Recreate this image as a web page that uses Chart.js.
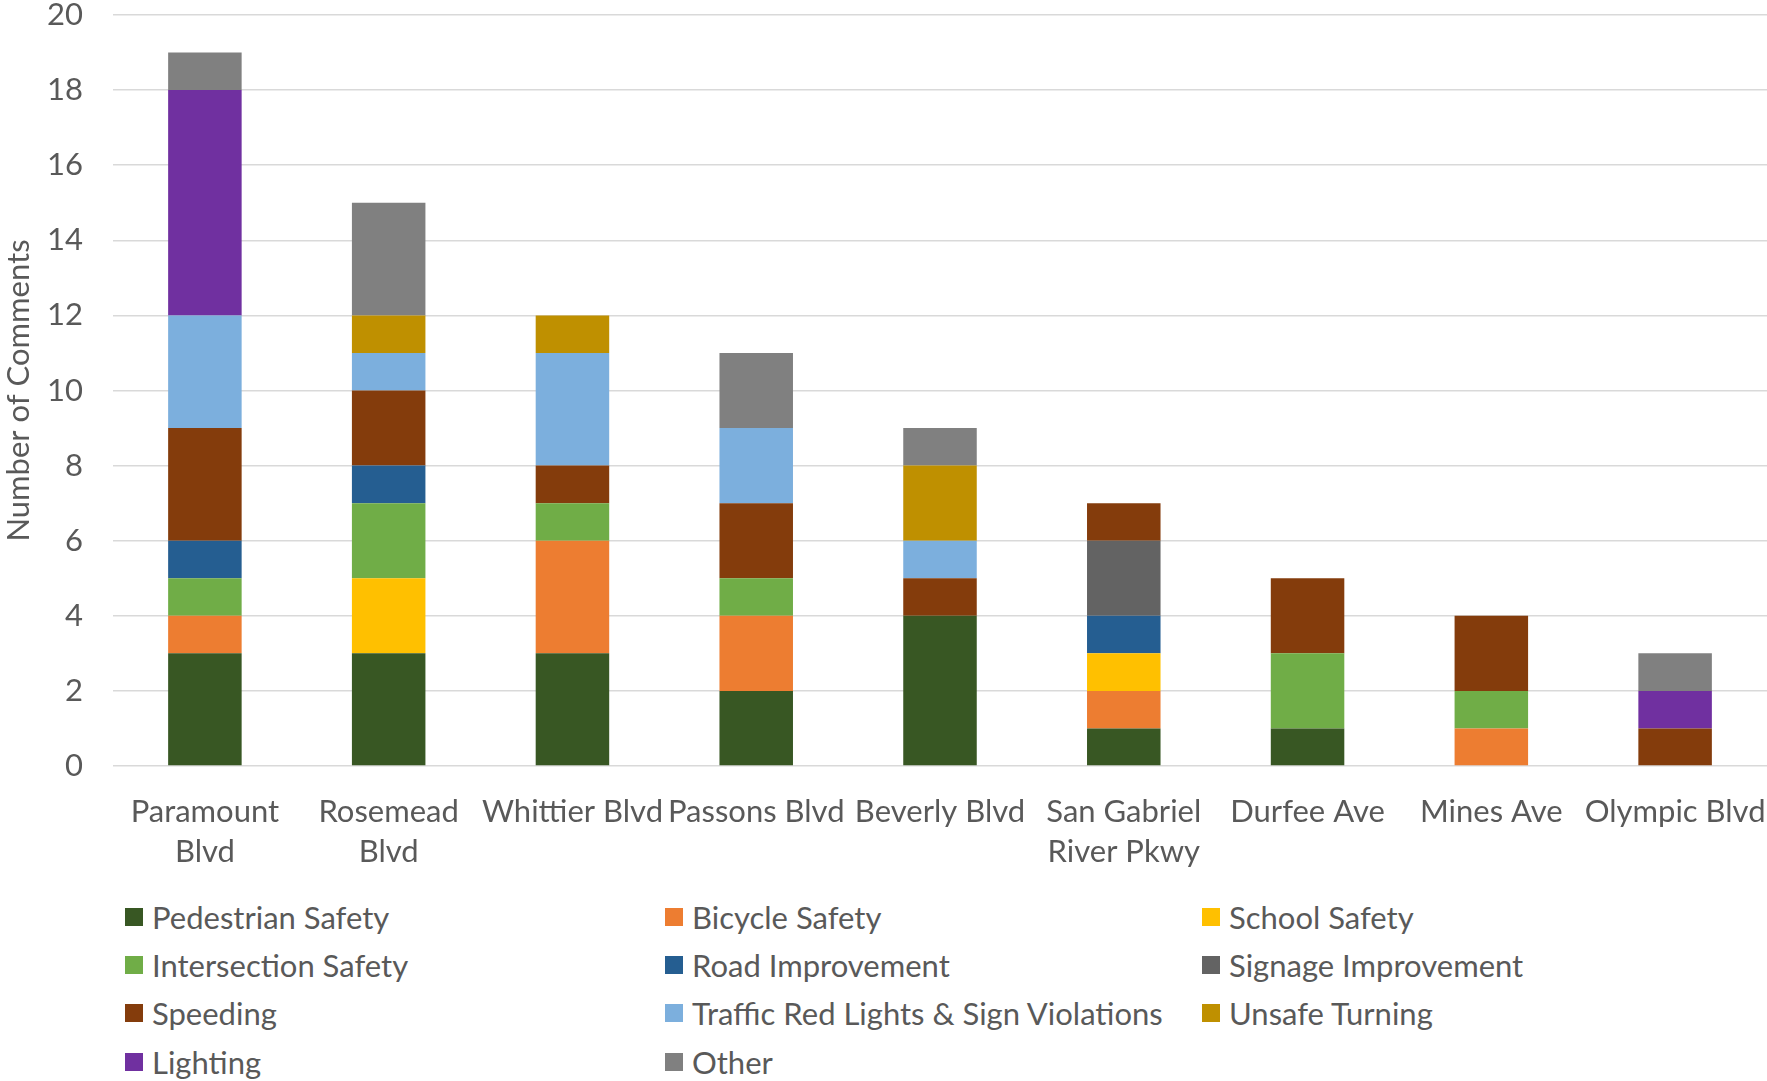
<!DOCTYPE html>
<html>
<head>
<meta charset="utf-8">
<title>Number of Comments by Street</title>
<script src="https://cdn.jsdelivr.net/npm/chart.js@4"></script>
<style>
    html, body { margin: 0; padding: 0; background: #fff; }
    #wrap { position: relative; width: 1767px; height: 1081px; font-family: Lato, "Noto Sans", sans-serif; }
    #commentsChart { position: absolute; left: 0; top: 0; }
    .legend-item { position: absolute; height: 40px; display: flex; align-items: center; color: #595959; font-size: 31px; white-space: nowrap; }
    .legend-item span.box { width: 18px; height: 18px; margin-right: 9px; flex: none; }
</style>
</head>
<body>
<div id="wrap">
    <canvas id="commentsChart"></canvas>
    <div id="legend"></div>
</div>
<script>
// Streets along the x axis and how their labels wrap
const categories = ['Paramount Blvd', 'Rosemead Blvd', 'Whittier Blvd', 'Passons Blvd', 'Beverly Blvd',
    'San Gabriel River Pkwy', 'Durfee Ave', 'Mines Ave', 'Olympic Blvd'];
const tickLabels = [['Paramount', 'Blvd'], ['Rosemead', 'Blvd'], 'Whittier Blvd', 'Passons Blvd', 'Beverly Blvd',
    ['San Gabriel', 'River Pkwy'], 'Durfee Ave', 'Mines Ave', 'Olympic Blvd'];
const yTicks = [0, 2, 4, 6, 8, 10, 12, 14, 16, 18, 20];

// Comment counts per category (stack order bottom to top)
const pedestrianSafety   = [3, 3, 3, 2, 4, 1, 1, 0, 0];
const bicycleSafety      = [1, 0, 3, 2, 0, 1, 0, 1, 0];
const schoolSafety       = [0, 2, 0, 0, 0, 1, 0, 0, 0];
const intersectionSafety = [1, 2, 1, 1, 0, 0, 2, 1, 0];
const roadImprovement    = [1, 1, 0, 0, 0, 1, 0, 0, 0];
const signageImprovement = [0, 0, 0, 0, 0, 2, 0, 0, 0];
const speeding           = [3, 2, 1, 2, 1, 1, 2, 2, 1];
const trafficViolations  = [3, 1, 3, 2, 1, 0, 0, 0, 0];
const unsafeTurning      = [0, 1, 1, 0, 2, 0, 0, 0, 0];
const lighting           = [6, 0, 0, 0, 0, 0, 0, 0, 1];
const other              = [1, 3, 0, 2, 1, 0, 0, 0, 1];

const seriesNames = ['Pedestrian Safety', 'Bicycle Safety', 'School Safety', 'Intersection Safety',
    'Road Improvement', 'Signage Improvement', 'Speeding', 'Traffic Red Lights & Sign Violations',
    'Unsafe Turning', 'Lighting', 'Other'];
const seriesValues = [pedestrianSafety, bicycleSafety, schoolSafety, intersectionSafety, roadImprovement,
    signageImprovement, speeding, trafficViolations, unsafeTurning, lighting, other];
const seriesColors = ['#385723', '#ed7d31', '#ffc000', '#70ad47', '#255e91', '#636363',
    '#843c0c', '#7cafdd', '#bf9000', '#7030a0', '#808080'];

const textColor = '#595959';
const baseFont = { family: 'Lato, "Noto Sans", sans-serif', size: 31 };

// Build the legend as three fixed columns, like the original
function buildLegend() {
    const legend = document.getElementById('legend');
    const colX = [125, 665, 1202];
    const rowY = [917, 965, 1013, 1062];
    seriesNames.forEach((name, i) => {
        const item = document.createElement('div');
        item.className = 'legend-item';
        item.style.left = colX[i % 3] + 'px';
        item.style.top = (rowY[Math.floor(i / 3)] - 20) + 'px';
        item.innerHTML = `<span class="box" style="background:${seriesColors[i]}"></span><span>${name}</span>`;
        legend.appendChild(item);
    });
}

function renderChart() {
    const canvas = document.getElementById('commentsChart');
    canvas.width = 1767;
    canvas.height = 880;
    canvas.style.width = '1767px';
    canvas.style.height = '880px';

    new Chart(canvas.getContext('2d'), {
        type: 'bar',
        data: {
            labels: tickLabels,
            datasets: seriesNames.map((name, i) => ({
                label: name,
                data: seriesValues[i],
                backgroundColor: seriesColors[i],
                borderWidth: 0,
                categoryPercentage: 1,
                barPercentage: 0.4
            }))
        },
        options: {
            responsive: false,
            animation: false,
            devicePixelRatio: 1,
            layout: { padding: { top: 15, right: 0, bottom: 0, left: 0 } },
            plugins: {
                legend: { display: false },
                tooltip: { enabled: false }
            },
            scales: {
                x: {
                    stacked: true,
                    grid: { display: false },
                    border: { display: false },
                    ticks: {
                        color: textColor,
                        padding: 18,
                        maxRotation: 0,
                        autoSkip: false,
                        font: { ...baseFont, lineHeight: '40px' }
                    },
                    // plot runs to the right edge, labels may overhang
                    afterFit: scale => {
                        scale.height = 114;
                        scale.paddingLeft = 0;
                        scale.paddingRight = 0;
                    }
                },
                y: {
                    stacked: true,
                    min: 0,
                    max: 20,
                    afterBuildTicks: scale => { scale.ticks = yTicks.map(v => ({ value: v })); },
                    grid: { color: '#d9d9d9', lineWidth: 1.5, drawTicks: false },
                    border: { display: false },
                    ticks: { color: textColor, padding: 30, font: baseFont },
                    title: {
                        display: true,
                        text: 'Number of Comments',
                        color: textColor,
                        font: baseFont,
                        padding: { top: 0, bottom: 0 }
                    },
                    // fixed axis width; drop the label padding so the plot starts at the top
                    afterFit: scale => {
                        scale.width = 113;
                        scale.paddingTop = 0;
                        scale.paddingBottom = 0;
                    }
                }
            }
        }
    });
}

buildLegend();
renderChart();
</script>
</body>
</html>
